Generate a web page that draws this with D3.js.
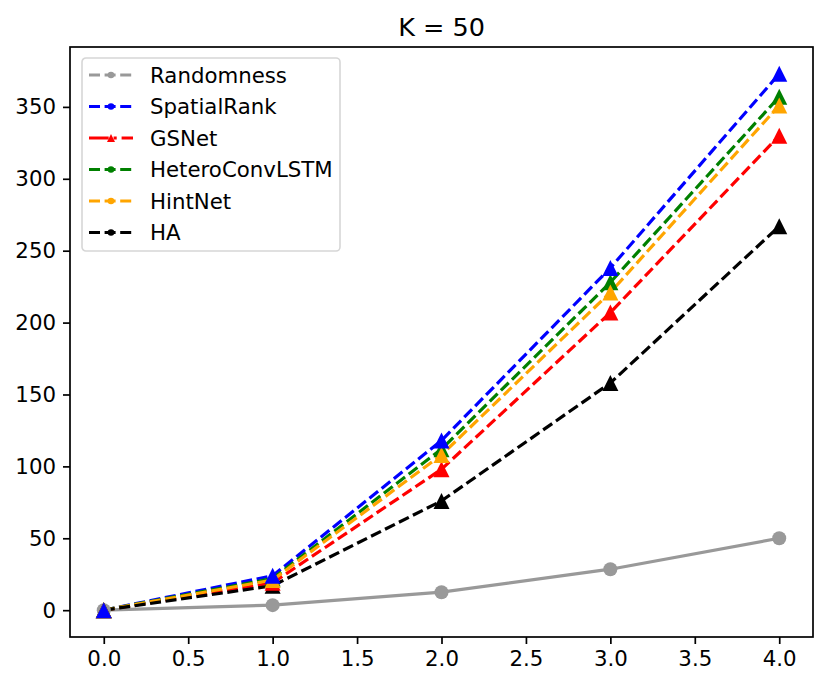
<!DOCTYPE html>
<html>
<head>
<meta charset="utf-8">
<script src="https://cdn.jsdelivr.net/npm/d3@7"></script>
<style>
  body { margin: 0; background: #fff; }
  text { font-family: "DejaVu Sans", sans-serif; }
</style>
</head>
<body>
<script>
// values
const steps = [0, 1, 2, 3, 4];
const randomness     = [0, 3.5, 12.5, 28.5, 50];
const spatialRank    = [0, 24, 118, 238, 373];
const gsNet          = [0, 19, 98, 207, 330];
const heteroConvLSTM = [0, 22, 112, 228, 357];
const hintNet        = [0, 21, 108, 221, 351];
const ha             = [0, 17, 76, 158, 267];
const xTicks = [0, 0.5, 1, 1.5, 2, 2.5, 3, 3.5, 4];
const yTicks = [0, 50, 100, 150, 200, 250, 300, 350];

const series = [
  {name: "Randomness",     values: randomness,     color: "#999999", dash: null,     legendDash: "11,4.6", marker: "circle",   legendMarker: "dot"},
  {name: "SpatialRank",    values: spatialRank,    color: "#0000ff", dash: "11,4.6", legendDash: "11,4.6", marker: "triangle", legendMarker: "dot"},
  {name: "GSNet",          values: gsNet,          color: "#ff0000", dash: "11,4.6", legendDash: "19.7,4.9,3.1,4.9", marker: "triangle", legendMarker: "tri"},
  {name: "HeteroConvLSTM", values: heteroConvLSTM, color: "#008000", dash: "11,4.6", legendDash: "11,4.6", marker: "triangle", legendMarker: "dot"},
  {name: "HintNet",        values: hintNet,        color: "#ffa500", dash: "11,4.6", legendDash: "11,4.6", marker: "triangle", legendMarker: "dot"},
  {name: "HA",             values: ha,             color: "#000000", dash: "11,4.6", legendDash: "11,4.6", marker: "triangle", legendMarker: "dot"}
];
// order in which markers end up stacked
const markerOrder = ["Randomness", "HA", "GSNet", "HeteroConvLSTM", "HintNet", "SpatialRank"];

const width = 829, height = 689;
const plotLeft = 70, plotRight = 813, plotTop = 47, plotBottom = 637;

const svg = d3.select("body").append("svg")
  .attr("width", width)
  .attr("height", height);

// matplotlib style 5% margins
const allVals = series.flatMap(s => s.values);
const yMin = d3.min(allVals), yMax = d3.max(allVals);
const yPad = (yMax - yMin) * 0.05;
const xPad = (d3.max(steps) - d3.min(steps)) * 0.05;

const x = d3.scaleLinear()
  .domain([d3.min(steps) - xPad, d3.max(steps) + xPad])
  .range([plotLeft, plotRight]);
const y = d3.scaleLinear()
  .domain([yMin - yPad, yMax + yPad])
  .range([plotBottom, plotTop]);

// axes
const xAxis = svg.append("g")
  .attr("transform", `translate(0,${plotBottom})`)
  .call(d3.axisBottom(x).tickValues(xTicks).tickFormat(d3.format(".1f")).tickSize(7).tickPadding(7));
const yAxis = svg.append("g")
  .attr("transform", `translate(${plotLeft},0)`)
  .call(d3.axisLeft(y).tickValues(yTicks).tickFormat(d3.format("d")).tickSize(7).tickPadding(7));

[xAxis, yAxis].forEach(g => {
  g.select(".domain").remove();
  g.selectAll(".tick line").attr("stroke", "#000").attr("stroke-width", 1.7);
  g.selectAll(".tick text")
    .attr("fill", "#000")
    .style("font-size", "21.3px")
    .style("font-family", "DejaVu Sans, sans-serif");
});
xAxis.selectAll(".tick text").attr("dy", "0.72em");

// lines
const line = d3.line()
  .x((d, i) => x(steps[i]))
  .y(d => y(d));

series.forEach(s => {
  svg.append("path")
    .datum(s.values)
    .attr("fill", "none")
    .attr("stroke", s.color)
    .attr("stroke-width", 3.2)
    .attr("stroke-dasharray", s.dash)
    .attr("d", line);
});

// markers
markerOrder.forEach(name => {
  const s = series.find(d => d.name === name);
  if (s.marker === "circle") {
    svg.append("g").selectAll("circle")
      .data(s.values)
      .join("circle")
      .attr("cx", (d, i) => x(steps[i]))
      .attr("cy", d => y(d))
      .attr("r", 7)
      .attr("fill", s.color);
  } else {
    svg.append("g").selectAll("path")
      .data(s.values)
      .join("path")
      .attr("d", "M0,-8L8,8L-8,8Z")
      .attr("transform", (d, i) => `translate(${x(steps[i])},${y(d)})`)
      .attr("fill", s.color);
  }
});

// frame
svg.append("rect")
  .attr("x", plotLeft).attr("y", plotTop)
  .attr("width", plotRight - plotLeft).attr("height", plotBottom - plotTop)
  .attr("fill", "none")
  .attr("stroke", "#000")
  .attr("stroke-width", 1.7);

// title
svg.append("text")
  .attr("x", (plotLeft + plotRight) / 2)
  .attr("y", 36)
  .attr("text-anchor", "middle")
  .style("font-size", "25.5px")
  .text("K = 50");

// legend
const legend = svg.append("g").attr("transform", "translate(82,58)");
legend.append("rect")
  .attr("width", 258).attr("height", 193)
  .attr("rx", 4).attr("ry", 4)
  .attr("fill", "#fff").attr("fill-opacity", 0.8)
  .attr("stroke", "#d6d6d6").attr("stroke-width", 1.6);

const row = legend.selectAll("g.row")
  .data(series)
  .join("g")
  .attr("class", "row")
  .attr("transform", (d, i) => `translate(0,${17 + i * 31.5})`);

row.append("line")
  .attr("x1", 7).attr("x2", 51)
  .attr("stroke", d => d.color)
  .attr("stroke-width", 3.2)
  .attr("stroke-dasharray", d => d.legendDash);

row.each(function(d) {
  const g = d3.select(this);
  if (d.legendMarker === "tri") {
    g.append("path").attr("d", "M29,-4L33,4L25,4Z").attr("fill", d.color);
  } else {
    g.append("circle").attr("cx", 29).attr("r", 3.3).attr("fill", d.color);
  }
});

row.append("text")
  .attr("x", 68)
  .attr("dy", "0.36em")
  .style("font-size", "21.3px")
  .text(d => d.name);
</script>
</body>
</html>
